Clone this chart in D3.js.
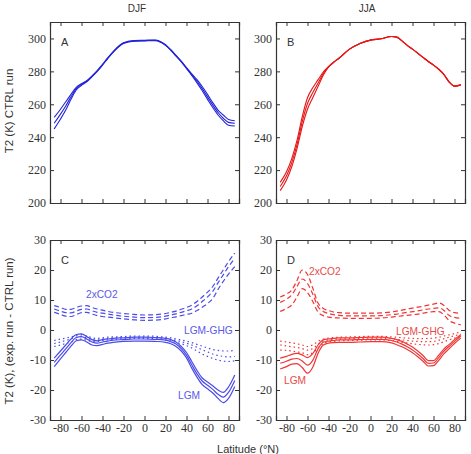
<!DOCTYPE html>
<html>
<head>
<meta charset="utf-8">
<script src="https://cdn.jsdelivr.net/npm/d3@7/dist/d3.min.js"></script>
<style>
  body { margin: 0; background: #fff; }
  svg { display: block; }
  .domain, .tick line { stroke: #333; }
  .lbl { font-family: "Liberation Sans", Arial, sans-serif; }
</style>
</head>
<body>
<div id="vis"></div>
<script>
// latitude grid (deg N) shared by every curve
const lat = [-86, -80, -75, -70, -65, -60, -55, -50, -45, -40, -35, -30, -20, -10, 0, 10, 20, 25, 30, 35, 40, 45, 50, 55, 60, 65, 70, 75, 80, 86];

const latTicks = [-80, -60, -40, -20, 0, 20, 40, 60, 80];
const ctrlTicks = [200, 220, 240, 260, 280, 300];
const diffTicks = [-30, -20, -10, 0, 10, 20, 30];

// A: DJF CTRL run, three members
const djfCtrl = [
  [252, 257, 261.5, 266, 270.3, 272.5, 274.4, 277.3, 280.5, 284.2, 288.2, 291.9, 297.4, 298.7, 298.9, 299.1, 296.2, 293.2, 289.7, 286.2, 282.3, 278.5, 275, 270.8, 266, 261, 256.5, 253.5, 250.8, 250],
  [248.5, 254, 259, 264.5, 269.5, 272, 274, 277, 280.3, 284, 288, 291.7, 297.2, 298.5, 298.7, 298.9, 296, 293, 289.5, 286, 282, 278, 274, 269.5, 264.5, 259.5, 255, 251.5, 249, 248.5],
  [245, 251, 256.5, 263, 268.7, 271.5, 273.6, 276.7, 280, 283.8, 287.8, 291.5, 297, 298.3, 298.5, 298.7, 295.8, 292.8, 289.3, 285.8, 281.7, 277.5, 273, 268.2, 263, 258, 253.5, 250, 247.3, 246.8]
];

// B: JJA CTRL run
const jjaCtrl = [
  [212.5, 219, 227, 238, 252.5, 264, 270, 274.8, 279.6, 282.9, 285.7, 288, 293.5, 297, 299, 299.8, 301.2, 300.8, 298.5, 295.8, 293.5, 291, 288.5, 286, 283.8, 281.3, 278, 273.5, 271, 271.8],
  [210, 216.5, 224.5, 235.5, 249.5, 260.5, 267, 272.8, 278.6, 282.7, 285.6, 288, 293.5, 297, 299, 299.8, 301.2, 300.8, 298.5, 295.8, 293.5, 291, 288.5, 286, 283.8, 281.3, 278, 273.5, 271, 271.8],
  [207.5, 214, 222, 233, 246.5, 257, 264, 270.8, 277.6, 282.5, 285.5, 288, 293.5, 297, 299, 299.8, 301.2, 300.8, 298.5, 295.8, 293.5, 291, 288.5, 286, 283.8, 281.3, 278, 273.5, 271, 271.8]
];

// C: DJF anomalies
const djfCO2 = [
  [8.1, 7.5, 6.9, 6.9, 7.5, 8, 8.1, 7.5, 7, 6.6, 6.2, 5.9, 5.5, 5.2, 5, 5.1, 5.5, 5.9, 6.3, 6.9, 7.5, 8.3, 9.5, 11, 12.6, 14.5, 17.3, 20, 22.8, 25.6],
  [7, 6.3, 5.8, 5.7, 6.3, 6.9, 7, 6.4, 5.9, 5.6, 5.3, 5, 4.6, 4.3, 4.1, 4.2, 4.6, 5, 5.4, 5.9, 6.4, 7, 8.1, 9.5, 11, 12.9, 15.7, 18.4, 21.1, 23.9],
  [5.9, 5.2, 4.6, 4.5, 5.1, 5.8, 5.9, 5.3, 4.8, 4.5, 4.3, 4.1, 3.7, 3.4, 3.2, 3.3, 3.7, 4.1, 4.4, 4.8, 5.2, 5.6, 6.5, 7.6, 8.8, 10.5, 13.5, 16.2, 18.6, 21.1]
];
const djfGHG = [
  [-3.5, -3, -2.7, -2.3, -1.8, -1.6, -2, -2.6, -2.8, -2.6, -2.4, -2.3, -2.2, -2, -2, -2.1, -2.4, -2.6, -3, -3.3, -3.7, -4.2, -4.8, -5.4, -6, -6.5, -6.8, -7, -7, -6.8],
  [-4.5, -4, -3.5, -3, -2.4, -2.2, -2.7, -3.2, -3.3, -3, -2.8, -2.7, -2.6, -2.4, -2.4, -2.5, -2.8, -3.1, -3.5, -3.9, -4.4, -5, -5.8, -6.6, -7.3, -8, -8.5, -8.8, -9, -8.8],
  [-5.5, -5, -4.5, -4, -3.2, -3, -3.4, -3.8, -3.8, -3.5, -3.3, -3.2, -3, -2.8, -2.8, -2.9, -3.3, -3.6, -4.1, -4.6, -5.2, -6, -7, -8, -8.8, -9.5, -10, -10.4, -10.5, -10.3]
];
const djfLGM = [
  [-9.4, -7, -5, -3, -1.5, -1.3, -2.2, -3.2, -3.6, -3.2, -3, -2.8, -2.6, -2.4, -2.4, -2.5, -2.8, -3.2, -4, -5.5, -7.5, -10.5, -13.5, -16, -17.3, -18.6, -20, -20.8, -19, -15],
  [-10.8, -8.3, -6.3, -4.2, -2.5, -2.2, -3, -4, -4.4, -4, -3.7, -3.4, -3.2, -3, -3, -3.1, -3.4, -3.9, -4.7, -6.2, -8.4, -11.6, -14.6, -17, -18.4, -19.8, -21.4, -22.4, -20.8, -16.8],
  [-12.2, -9.6, -7.5, -5.4, -3.6, -3.3, -4, -5, -5.2, -4.8, -4.4, -4.1, -3.8, -3.7, -3.7, -3.8, -4.1, -4.6, -5.5, -7, -9.3, -12.7, -15.7, -18.2, -19.6, -21, -22.8, -24.2, -22.8, -18.8]
];

// D: JJA anomalies
const jjaCO2 = [
  [11, 12, 13.3, 16.5, 20, 18.5, 14, 9, 7.2, 6.5, 6, 5.8, 5.6, 5.6, 5.6, 5.7, 6, 6.3, 6.6, 7, 7.3, 7.6, 7.9, 8.3, 8.6, 9, 8.2, 6.5, 5.8, 5.6],
  [9.2, 10.3, 11.7, 14.5, 17, 15.5, 12, 7.8, 6.2, 5.5, 5.1, 4.9, 4.7, 4.7, 4.7, 4.8, 5.1, 5.3, 5.6, 5.9, 6.1, 6.4, 6.7, 7, 7.2, 7.4, 6.5, 4.8, 4.2, 3.9],
  [6.2, 7.2, 8.3, 11, 13.8, 12.5, 9.5, 6, 4.8, 4.3, 4.1, 4, 3.9, 3.9, 3.9, 4, 4.3, 4.5, 4.7, 4.9, 5.1, 5.3, 5.6, 5.9, 6.1, 6.1, 5, 3.1, 2.3, 1.7]
];
const jjaGHG = [
  [-3.7, -4, -4.3, -4.6, -5, -5.5, -5, -3.8, -3, -2.7, -2.5, -2.4, -2.3, -2.2, -2.1, -2.1, -2.3, -2.4, -2.6, -2.7, -2.8, -2.9, -2.9, -2.8, -2.7, -2.4, -2, -1.6, -1.2, -0.6],
  [-5, -5.3, -5.6, -5.8, -6.2, -6.7, -6.2, -4.8, -3.7, -3.3, -3.1, -3, -2.9, -2.8, -2.7, -2.7, -2.9, -3.1, -3.3, -3.5, -3.7, -3.8, -3.9, -3.9, -3.8, -3.4, -2.9, -2.4, -1.9, -1.4],
  [-6.7, -6.8, -7, -7.3, -7.6, -8.2, -7.6, -6, -4.5, -4, -3.8, -3.6, -3.5, -3.4, -3.3, -3.3, -3.5, -3.8, -4.1, -4.3, -4.6, -4.8, -4.9, -5, -4.9, -4.5, -3.9, -3.3, -2.7, -2.2]
];
const jjaLGM = [
  [-9.4, -8.8, -8.1, -7.8, -8.3, -9.2, -7.9, -5, -3.3, -3, -2.8, -2.6, -2.6, -2.5, -2.4, -2.4, -2.8, -3.2, -3.8, -4.7, -5.7, -7, -8.5, -10.2, -10.2, -8.4, -6.3, -4.8, -3.2, -1.6],
  [-11.1, -10.4, -9.7, -9.5, -10.3, -11.7, -10.1, -6.3, -4.1, -3.7, -3.5, -3.3, -3.3, -3.2, -3.1, -3.1, -3.5, -4, -4.7, -5.6, -6.7, -8, -9.5, -11.1, -11, -9.2, -7, -5.4, -3.8, -2.1],
  [-13, -12.2, -11.4, -11.2, -12.5, -14.4, -12.4, -7.8, -5, -4.4, -4.2, -4.1, -4.1, -4, -3.9, -3.9, -4.3, -4.9, -5.6, -6.5, -7.6, -8.9, -10.4, -12, -11.9, -10.1, -7.9, -6.2, -4.5, -2.7]
];

const W = 471, H = 454;
const svg = d3.select("#vis").append("svg").attr("width", W).attr("height", H);

const cols = [[50, 239], [276, 465]];
const rows = [[22, 203], [240, 420]];
const serif = '"Liberation Serif", "Times New Roman", serif';

function panel(col, row, yDomain, yTicks, letter, showX) {
  let x = d3.scaleLinear().domain([-90, 90]).range(cols[col]);
  let y = d3.scaleLinear().domain(yDomain).range([rows[row][1], rows[row][0]]);
  let g = svg.append("g");

  g.append("g").attr("transform", `translate(0,${rows[row][1]})`)
    .call(d3.axisBottom(x).tickValues(latTicks).tickSize(-4).tickPadding(3)
      .tickFormat(showX ? d3.format("d") : ""));
  g.append("g").attr("transform", `translate(0,${rows[row][0]})`)
    .call(d3.axisTop(x).tickValues(latTicks).tickSize(-4).tickFormat(""));
  g.append("g").attr("transform", `translate(${cols[col][0]},0)`)
    .call(d3.axisLeft(y).tickValues(yTicks).tickSize(-4).tickPadding(4));
  g.append("g").attr("transform", `translate(${cols[col][1]},0)`)
    .call(d3.axisRight(y).tickValues(yTicks).tickSize(-4).tickFormat(""));
  g.selectAll(".domain").attr("stroke-width", 1.2);
  g.selectAll(".tick text")
    .attr("font-family", serif)
    .style("font-family", serif)
    .style("font-size", "12px")
    .attr("fill", "#333")
    .text(function(){ return this.textContent.replace("−", "-"); });

  g.append("text").attr("class", "lbl")
    .attr("x", cols[col][0] + 11).attr("y", rows[row][0] + 24)
    .attr("font-size", 11).attr("fill", "#333").text(letter);

  return {x, y, g};
}

function curves(p, sets, color, dash, width) {
  let line = d3.line()
    .x((d, i) => p.x(lat[i]))
    .y(d => p.y(d))
    .curve(d3.curveMonotoneX);
  p.g.append("g").selectAll("path").data(sets).join("path")
    .attr("d", line)
    .attr("fill", "none")
    .attr("stroke", color)
    .attr("stroke-width", width)
    .attr("stroke-dasharray", dash);
}

function note(p, txt, x, y, color) {
  p.g.append("text").attr("class", "lbl")
    .attr("x", x).attr("y", y)
    .attr("font-size", 10.2).attr("fill", color).text(txt);
}

const blueDark = "#2323d8", blue = "#4b4be8", blueTxt = "#5a5ae6";
const redDark = "#e41616", red = "#ef3636", redTxt = "#e94a4a";

let pA = panel(0, 0, [200, 310], ctrlTicks, "A", false);
curves(pA, djfCtrl, blueDark, null, 1.1);

let pB = panel(1, 0, [200, 310], ctrlTicks, "B", false);
curves(pB, jjaCtrl, redDark, null, 1.1);

let pC = panel(0, 1, [-30, 30], diffTicks, "C", true);
curves(pC, djfCO2, blue, "5,3", 1.2);
curves(pC, djfGHG, blue, "1.5,3", 1.2);
curves(pC, djfLGM, blue, null, 1.2);
note(pC, "2xCO2", 86, 298, blueTxt);
note(pC, "LGM-GHG", 184, 334, blueTxt);
note(pC, "LGM", 178, 399, blueTxt);

let pD = panel(1, 1, [-30, 30], diffTicks, "D", true);
curves(pD, jjaCO2, red, "5,3", 1.2);
curves(pD, jjaGHG, red, "1.5,3", 1.2);
curves(pD, jjaLGM, red, null, 1.2);
note(pD, "2xCO2", 309, 275, redTxt);
note(pD, "LGM-GHG", 396, 335, redTxt);
note(pD, "LGM", 284, 384, redTxt);

// titles and axis labels
svg.append("text").attr("class", "lbl").attr("x", 137).attr("y", 11.5)
  .attr("text-anchor", "middle").attr("font-size", 10).attr("fill", "#333").text("DJF");
svg.append("text").attr("class", "lbl").attr("x", 367).attr("y", 11.5)
  .attr("text-anchor", "middle").attr("font-size", 10).attr("fill", "#333").text("JJA");
svg.append("text").attr("class", "lbl")
  .attr("transform", "translate(13,111) rotate(-90)")
  .attr("text-anchor", "middle").attr("font-size", 11.5).attr("fill", "#333").text("T2 (K) CTRL run");
svg.append("text").attr("class", "lbl")
  .attr("transform", "translate(13,331) rotate(-90)")
  .attr("text-anchor", "middle").attr("font-size", 11.5).attr("fill", "#333").text("T2 (K), (exp. run - CTRL run)");
svg.append("text").attr("class", "lbl").attr("x", 248).attr("y", 453)
  .attr("text-anchor", "middle").attr("font-size", 11).attr("fill", "#333").text("Latitude (°N)");
</script>
</body>
</html>
